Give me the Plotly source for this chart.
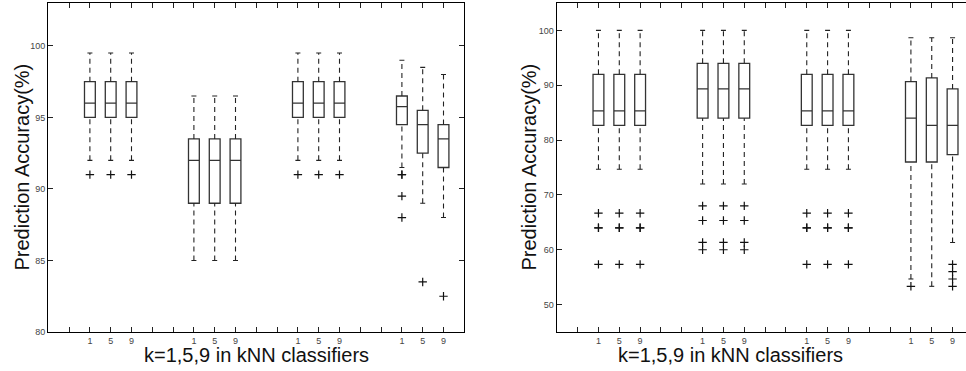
import plotly.graph_objects as go

# ---------------- data ----------------
positions = [2, 3, 4, 7, 8, 9, 12, 13, 14, 17, 18, 19]
tick_positions = list(range(1, 20))
tick_labels = ["", "1", "5", "9", "", "", "1", "5", "9", "", "", "1", "5", "9", "", "", "1", "5", "9"]

left_upper = [99.5, 99.5, 99.5, 96.5, 96.5, 96.5, 99.5, 99.5, 99.5, 99.0, 98.5, 98.0]
left_q3 = [97.5, 97.5, 97.5, 93.5, 93.5, 93.5, 97.5, 97.5, 97.5, 96.5, 95.5, 94.5]
left_median = [96.0, 96.0, 96.0, 92.0, 92.0, 92.0, 96.0, 96.0, 96.0, 95.75, 94.5, 93.5]
left_q1 = [95.0, 95.0, 95.0, 89.0, 89.0, 89.0, 95.0, 95.0, 95.0, 94.5, 92.5, 91.5]
left_lower = [92.0, 92.0, 92.0, 85.0, 85.0, 85.0, 92.0, 92.0, 92.0, 91.5, 89.0, 88.0]
left_outliers = [[91], [91], [91], [], [], [], [91], [91], [91],
                 [91, 91, 89.5, 88], [83.5], [82.5]]

right_upper = [100, 100, 100, 100, 100, 100, 100, 100, 100, 98.67, 98.67, 98.67]
right_q3 = [92, 92, 92, 94, 94, 94, 92, 92, 92, 90.67, 91.33, 89.33]
right_median = [85.33, 85.33, 85.33, 89.33, 89.33, 89.33, 85.33, 85.33, 85.33, 84.0, 82.67, 82.67]
right_q1 = [82.67, 82.67, 82.67, 84, 84, 84, 82.67, 82.67, 82.67, 76, 76, 77.33]
right_lower = [74.67, 74.67, 74.67, 72, 72, 72, 74.67, 74.67, 74.67, 54.67, 53.33, 61.33]
right_outliers = [[66.67, 64, 64, 57.33], [66.67, 64, 64, 57.33], [66.67, 64, 64, 57.33],
                  [68, 65.33, 61.33, 60], [68, 65.33, 61.33, 60], [68, 65.33, 61.33, 60],
                  [66.67, 64, 64, 57.33], [66.67, 64, 64, 57.33], [66.67, 64, 64, 57.33],
                  [53.33], [], [57.33, 56, 54.67, 53.33]]

y_title = "Prediction Accuracy(%)"
x_title = "k=1,5,9 in kNN classifiers"

# ---------------- style ----------------
FONT = "Liberation Sans, Arial, Helvetica, sans-serif"
W, H = 966, 371
CAP = 0.12
BOX_W = 0.52

fig = go.Figure()


def add_panel(xa, ya, upper, q3, med, q1, lower, outl):
    xs_w, ys_w, xs_c, ys_c, xo, yo = [], [], [], [], [], []
    for i, p in enumerate(positions):
        xs_w += [p, p, None, p, p, None]
        ys_w += [q3[i], upper[i], None, lower[i], q1[i], None]
        xs_c += [p - CAP, p + CAP, None, p - CAP, p + CAP, None]
        ys_c += [upper[i], upper[i], None, lower[i], lower[i], None]
        for v in outl[i]:
            xo.append(p)
            yo.append(v)
    fig.add_trace(go.Scatter(x=xs_w, y=ys_w, mode="lines", xaxis=xa, yaxis=ya,
                             line=dict(color="#222", width=1.1, dash="5px,4px"),
                             showlegend=False, hoverinfo="skip"))
    fig.add_trace(go.Scatter(x=xs_c, y=ys_c, mode="lines", xaxis=xa, yaxis=ya,
                             line=dict(color="#222", width=1.1),
                             showlegend=False, hoverinfo="skip"))
    fig.add_trace(go.Box(x=positions, q1=q1, median=med, q3=q3,
                         lowerfence=q1, upperfence=q3, xaxis=xa, yaxis=ya,
                         width=BOX_W, whiskerwidth=0, fillcolor="white",
                         line=dict(color="#333", width=1.3),
                         boxpoints=False, showlegend=False))
    fig.add_trace(go.Scatter(x=xo, y=yo, mode="markers", xaxis=xa, yaxis=ya,
                             marker=dict(symbol="cross-thin", size=6,
                                         line=dict(color="#111", width=1.2)),
                             showlegend=False))


add_panel("x", "y", left_upper, left_q3, left_median, left_q1, left_lower, left_outliers)
add_panel("x2", "y2", right_upper, right_q3, right_median, right_q1, right_lower, right_outliers)

ytop = (H - 3) / H
ybot = (H - 332) / H
tickfont = dict(family=FONT, size=9, color="#444")

xcommon = dict(range=[0, 20], tickmode="array", tickvals=tick_positions, ticktext=tick_labels,
               ticks="inside", ticklen=5, tickcolor="#222", showline=True, linecolor="black",
               linewidth=1.2, showgrid=False, zeroline=False, tickfont=tickfont,
               fixedrange=True, automargin=False)

fig.update_layout(
    template="none",
    width=W, height=H, margin=dict(l=0, r=0, t=0, b=0, pad=0),
    paper_bgcolor="white", plot_bgcolor="white",
    xaxis=dict(xcommon, domain=[48.3 / W, 464.3 / W], anchor="y", mirror="ticks"),
    yaxis=dict(domain=[ybot, ytop], range=[80, 103], tickvals=[80, 85, 90, 95, 100],
               ticks="inside", ticklen=5, tickcolor="#222", showline=True, linecolor="black",
               linewidth=1.3, mirror="ticks", showgrid=False, zeroline=False,
               tickfont=tickfont, anchor="x", automargin=False),
    xaxis2=dict(xcommon, range=[0, (W - 556.8) / 20.83], domain=[556.8 / W, 1.0],
                anchor="y2", mirror="ticks"),
    yaxis2=dict(domain=[ybot, ytop], range=[45, 105], tickvals=[50, 60, 70, 80, 90, 100],
                ticks="inside", ticklen=5, tickcolor="#222", showline=True, linecolor="black",
                linewidth=1.3, mirror=False, showgrid=False, zeroline=False,
                tickfont=tickfont, anchor="x2", automargin=False),
)

ymid = (H - 167.5) / H
title_font = dict(family=FONT, size=20, color="#111")
for xc in (21, 528):
    fig.add_annotation(text=y_title, x=xc / W, y=ymid, xref="paper", yref="paper",
                       textangle=-90, showarrow=False, font=title_font,
                       xanchor="center", yanchor="middle")
for xc in (256.5, 730):
    fig.add_annotation(text=x_title, x=xc / W, y=(H - 355) / H, xref="paper", yref="paper",
                       showarrow=False, font=title_font, xanchor="center", yanchor="middle")

fig.write_html(
    "out.html",
    config={"displayModeBar": False},
    post_script="document.body.style.margin='0';document.body.style.overflow='hidden';",
)
